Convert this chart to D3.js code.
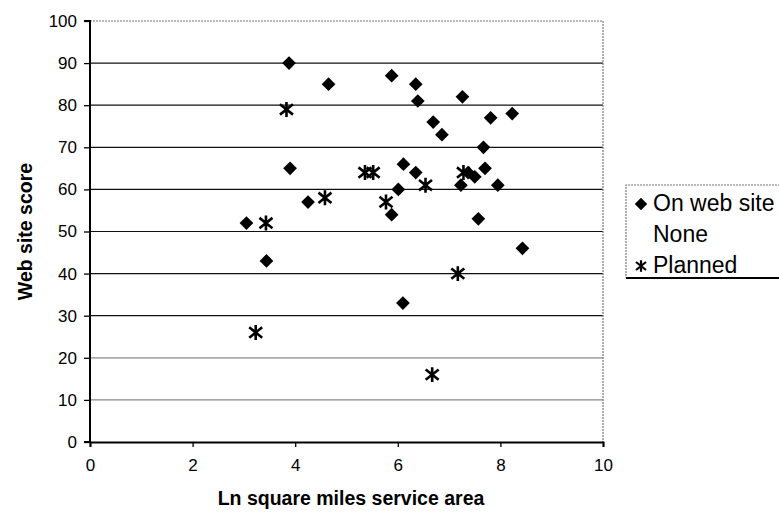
<!DOCTYPE html>
<html>
<head>
<meta charset="utf-8">
<script src="https://cdn.jsdelivr.net/npm/d3@7"></script>
<style>
  body { margin: 0; background: #fff; }
  svg text { font-family: "Liberation Sans", Arial, sans-serif; fill: #000; }
</style>
</head>
<body>
<svg width="779" height="512"></svg>
<script>
// series
var webX = [3.88, 3.90, 4.25, 3.05, 3.44, 4.65, 5.88, 6.35, 6.39, 7.26, 7.81, 8.23, 6.69, 6.86, 7.67,
            6.11, 6.35, 7.70, 7.37, 7.50, 7.23, 7.95, 6.01, 5.88, 7.57, 8.43, 6.10];
var webY = [90, 65, 57, 52, 43, 85, 87, 85, 81, 82, 77, 78, 76, 73, 70,
            66, 64, 65, 64, 63, 61, 61, 60, 54, 53, 46, 33];
var plannedX = [3.83, 3.43, 3.23, 5.36, 5.52, 7.28, 6.54, 4.58, 5.77, 7.17, 6.67];
var plannedY = [79, 52, 26, 64, 64, 64, 61, 58, 57, 40, 16];
var legendLabels = ["On web site", "None", "Planned"];
var xTicks = [0, 2, 4, 6, 8, 10];
var yTicks = [0, 10, 20, 30, 40, 50, 60, 70, 80, 90, 100];

var svg = d3.select("svg");
var plotL = 90, plotR = 603, plotT = 21, plotB = 442;

var x = d3.scaleLinear().domain([0, 10]).range([plotL, plotR]);
var y = d3.scaleLinear().domain([0, 100]).range([plotB, plotT]);

// grid
svg.selectAll(".grid")
  .data(yTicks.filter(function(d) { return d > 0 && d < 100; }))
  .enter().append("line")
  .attr("x1", plotL).attr("x2", plotR)
  .attr("y1", function(d) { return y(d); })
  .attr("y2", function(d) { return y(d); })
  .attr("stroke", function(d) { return d <= 20 ? "#888" : "#111"; })
  .attr("stroke-width", 1.2);

// dotted frame top / right
svg.append("path")
  .attr("d", "M" + plotL + "," + y(100) + "H" + plotR + "V" + plotB)
  .attr("fill", "none")
  .attr("stroke", "#777")
  .attr("stroke-width", 1.2)
  .attr("stroke-dasharray", "2,1");

var yAxis = svg.append("g")
  .attr("transform", "translate(" + plotL + ",0)")
  .call(d3.axisLeft(y).tickValues(yTicks).tickSize(6).tickPadding(7));
var xAxis = svg.append("g")
  .attr("transform", "translate(0," + plotB + ")")
  .call(d3.axisBottom(x).tickValues(xTicks).tickSize(5).tickPadding(12));

[yAxis, xAxis].forEach(function(a) {
  a.select(".domain").attr("stroke", "#000").attr("stroke-width", 2);
  a.selectAll(".tick line").attr("stroke", "#000").attr("stroke-width", 1.3);
  a.selectAll("text").style("font-size", "17px");
});
yAxis.select(".domain").attr("d", "M-6," + plotT + "H0V" + plotB + "H-6");

// markers
var diamond = d3.symbol().type(d3.symbolDiamond2).size(120);
function star(s) {
  return "M" + (-s) + "," + (-s * 0.8) + "L" + s + "," + (s * 0.8) +
         "M" + (-s) + "," + (s * 0.8) + "L" + s + "," + (-s * 0.8) +
         "M0," + (-s * 1.15) + "V" + (s * 1.15);
}

svg.selectAll(".web")
  .data(webX)
  .enter().append("path")
  .attr("d", diamond)
  .attr("transform", function(d, i) { return "translate(" + x(d) + "," + y(webY[i]) + ")"; })
  .attr("fill", "#000");

svg.selectAll(".planned")
  .data(plannedX)
  .enter().append("path")
  .attr("d", star(6.5))
  .attr("transform", function(d, i) { return "translate(" + x(d) + "," + y(plannedY[i]) + ")"; })
  .attr("fill", "none")
  .attr("stroke", "#000")
  .attr("stroke-width", 2.6);

// titles
svg.append("text")
  .attr("x", 351).attr("y", 505)
  .attr("text-anchor", "middle")
  .style("font-size", "19.5px").style("font-weight", "bold")
  .text("Ln square miles service area");

svg.append("text")
  .attr("transform", "translate(32," + ((plotT + plotB) / 2) + ") rotate(-90)")
  .attr("text-anchor", "middle")
  .style("font-size", "19.5px").style("font-weight", "bold")
  .text("Web site score");

// legend
var lg = svg.append("g").attr("transform", "translate(626,185)");
lg.append("path")
  .attr("d", "M160,0H0V93")
  .attr("fill", "none").attr("stroke", "#777")
  .attr("stroke-dasharray", "2,1").attr("stroke-width", 1.2);
lg.append("line").attr("x1", 0).attr("x2", 160).attr("y1", 93).attr("y2", 93)
  .attr("stroke", "#000").attr("stroke-width", 2);

var rows = lg.selectAll(".row")
  .data(legendLabels)
  .enter().append("g")
  .attr("transform", function(d, i) { return "translate(0," + (18 + i * 31) + ")"; });
rows.append("text")
  .attr("x", 27).attr("dy", "0.35em")
  .style("font-size", "23px")
  .text(function(d) { return d; });
rows.filter(function(d, i) { return i === 0; }).append("path")
  .attr("d", d3.symbol().type(d3.symbolDiamond2).size(100))
  .attr("transform", "translate(15,1)")
  .attr("fill", "#000");
rows.filter(function(d, i) { return i === 2; }).append("path")
  .attr("d", star(5))
  .attr("transform", "translate(15,1)")
  .attr("fill", "none").attr("stroke", "#000").attr("stroke-width", 2.2);
</script>
</body>
</html>
